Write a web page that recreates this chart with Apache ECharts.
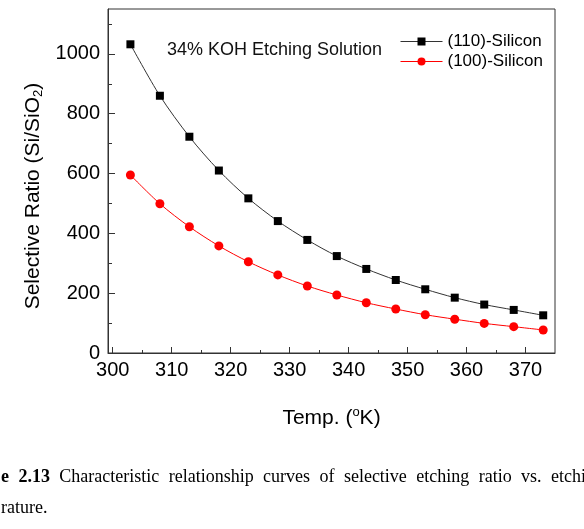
<!DOCTYPE html>
<html>
<head>
<meta charset="utf-8">
<script src="https://cdn.jsdelivr.net/npm/echarts@6/dist/echarts.min.js"></script>
<style>
  html, body { margin: 0; padding: 0; background: #fff; }
  #chartDom { width: 584px; height: 529px; }
</style>
</head>
<body>
<div id="chartDom"></div>
<script>
// temperatures (K) and selective ratio Si/SiO2
var temps = [303, 308, 313, 318, 323, 328, 333, 338, 343, 348, 353, 358, 363, 368, 373];
var si110 = [1032, 860, 723, 610, 517, 441, 378, 324, 281, 244, 213, 185, 162, 144, 126];
var si100 = [595, 499, 422, 358, 305, 261, 224, 194, 168, 147, 128, 113, 99, 88, 77];

var xMajor = [300, 310, 320, 330, 340, 350, 360, 370];
var xMinor = [305, 315, 325, 335, 345, 355, 365];
var yMajor = [0, 200, 400, 600, 800, 1000];
var yMinor = [100, 300, 500, 700, 900, 1100];

var captionLine1 = ['e', '2.13', 'Characteristic', 'relationship', 'curves', 'of', 'selective', 'etching', 'ratio', 'vs.', 'etching'];
var captionLine2 = 'rature.';

var FONT = 'Liberation Sans';
var SERIF = 'Liberation Serif';
var AX = '#333';

function pairs(xs, ys) {
    return xs.map(function (x, i) { return [x, ys[i]]; });
}

// justified caption line, words laid out with canvas text widths
function captionWords() {
    var ctx = document.createElement('canvas').getContext('2d');
    var widths = captionLine1.map(function (w, i) {
        ctx.font = (i < 2 ? 'bold ' : '') + '18px "' + SERIF + '"';
        return ctx.measureText(w).width;
    });
    var x0 = 1, xLast = 551;
    var total = 0;
    for (var i = 0; i < widths.length - 1; i++) total += widths[i];
    var gap = (xLast - x0 - total) / (widths.length - 1);
    var out = [], x = x0;
    captionLine1.forEach(function (w, i) {
        out.push({
            type: 'text', x: x, y: 477,
            style: {
                text: w, fill: '#000', fontFamily: SERIF, fontSize: 18,
                fontWeight: i < 2 ? 'bold' : 'normal', verticalAlign: 'middle'
            }
        });
        x += widths[i] + gap;
    });
    out.push({
        type: 'text', x: 1, y: 508,
        style: { text: captionLine2, fill: '#000', fontFamily: SERIF, fontSize: 18, verticalAlign: 'middle' }
    });
    return out;
}

var chartDom = echarts.init(document.getElementById('chartDom'));

var gridBox = { left: 108, top: 9, right: 29, bottom: 176 };
var plain = function (v) { return String(v); };

chartDom.setOption({
    animation: false,
    textStyle: { fontFamily: FONT },
    grid: [
        Object.assign({ show: true, borderColor: AX, borderWidth: 1, containLabel: false }, gridBox),
        Object.assign({ show: false, containLabel: false }, gridBox)
    ],
    legend: {
        orient: 'vertical',
        left: 400, top: 33,
        padding: 0,
        itemWidth: 42, itemHeight: 10, itemGap: 3,
        lineStyle: { width: 1 },
        textStyle: { fontSize: 17, color: '#000', fontFamily: FONT },
        data: ['(110)-Silicon', '(100)-Silicon']
    },
    xAxis: [{
        type: 'value', gridIndex: 0,
        min: 299.2, max: 375,
        name: 'Temp. ({sup|o}K)',
        nameLocation: 'middle', nameGap: 53,
        nameTextStyle: {
            fontSize: 21, color: '#000', fontFamily: FONT, lineHeight: 24,
            rich: { sup: { fontSize: 13, verticalAlign: 'top', lineHeight: 13, color: '#000' } }
        },
        axisLine: { show: true, lineStyle: { color: AX, width: 1 } },
        axisTick: { inside: true, length: 6, lineStyle: { color: AX }, customValues: xMajor },
        axisLabel: { fontSize: 20, color: '#000', margin: 7, formatter: plain, customValues: xMajor },
        splitLine: { show: false }
    }, {
        type: 'value', gridIndex: 1,
        min: 299.2, max: 375,
        axisLine: { show: false },
        axisTick: { inside: true, length: 3, lineStyle: { color: AX }, customValues: xMinor },
        axisLabel: { show: false },
        splitLine: { show: false }
    }],
    yAxis: [{
        type: 'value', gridIndex: 0,
        min: 0, max: 1150,
        name: 'Selective Ratio (Si/SiO{sub|2})',
        nameLocation: 'middle', nameGap: 58,
        nameTextStyle: {
            fontSize: 21, color: '#000', fontFamily: FONT, lineHeight: 23,
            padding: [0, 30, 0, 0],
            rich: { sub: { fontSize: 13, verticalAlign: 'bottom', lineHeight: 13, color: '#000' } }
        },
        axisLine: { show: true, lineStyle: { color: AX, width: 1 } },
        axisTick: { inside: true, length: 7, lineStyle: { color: AX }, customValues: yMajor },
        axisLabel: { fontSize: 20, color: '#000', margin: 8, formatter: plain, customValues: yMajor },
        splitLine: { show: false }
    }, {
        type: 'value', gridIndex: 1,
        min: 0, max: 1150,
        axisLine: { show: false },
        axisTick: { inside: true, length: 4, lineStyle: { color: AX }, customValues: yMinor },
        axisLabel: { show: false },
        splitLine: { show: false }
    }],
    graphic: [{
        type: 'text', x: 167, y: 50,
        style: { text: '34% KOH Etching Solution', fill: '#111', fontFamily: FONT, fontSize: 18, verticalAlign: 'middle' }
    }].concat(captionWords()),
    series: [{
        name: '(110)-Silicon',
        type: 'line',
        xAxisIndex: 0, yAxisIndex: 0,
        data: pairs(temps, si110),
        smooth: 0.3,
        symbol: 'rect', symbolSize: 8,
        itemStyle: { color: '#000' },
        lineStyle: { color: '#333', width: 1 }
    }, {
        name: '(100)-Silicon',
        type: 'line',
        xAxisIndex: 0, yAxisIndex: 0,
        data: pairs(temps, si100),
        smooth: 0.3,
        symbol: 'circle', symbolSize: 9,
        itemStyle: { color: '#ff0000' },
        lineStyle: { color: '#ff0000', width: 1 }
    }]
});
</script>
</body>
</html>
